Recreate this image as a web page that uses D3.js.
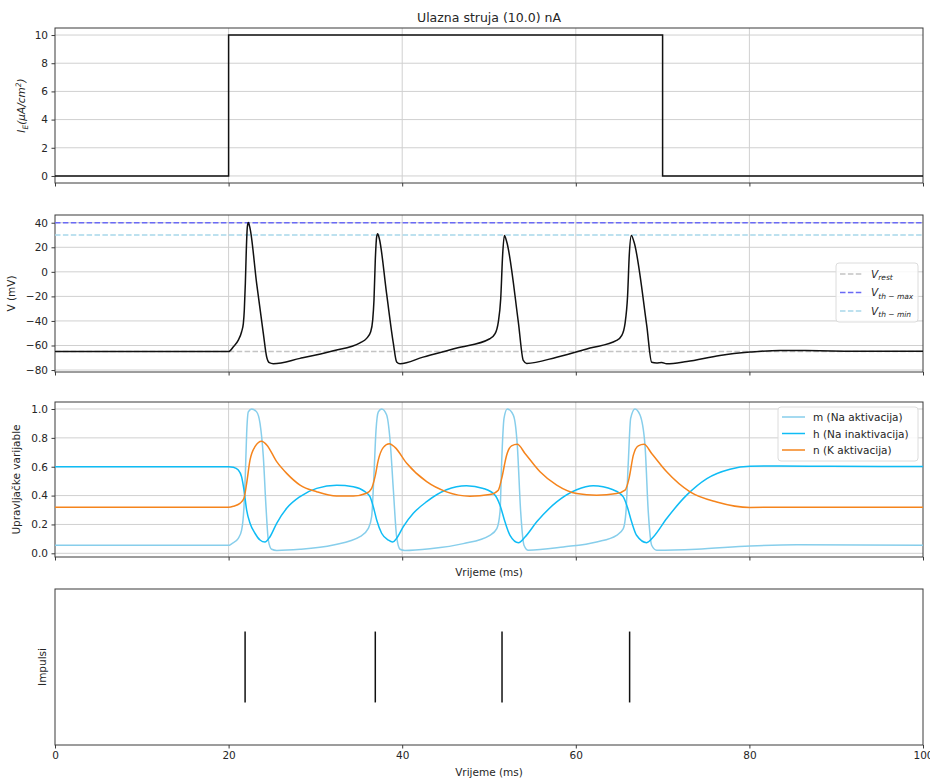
<!DOCTYPE html>
<html>
<head>
<meta charset="utf-8">
<script src="https://cdn.jsdelivr.net/npm/d3@7"></script>
<style>
  body { margin: 0; background: #fff; }
  svg text { font-family: "DejaVu Sans", sans-serif; fill: #262626; }
</style>
</head>
<body>
<svg id="chart" width="930" height="779"></svg>
<script>
// ---- data ----
var timeTicks = [0, 20, 40, 60, 80, 100];
var currentTicks = [0, 2, 4, 6, 8, 10];
var voltTicks = [-80, -60, -40, -20, 0, 20, 40];
var gateTicks = [0, 0.2, 0.4, 0.6, 0.8, 1.0];

var currentTrace = [[0, 0], [20, 0], [20, 10], [70, 10], [70, 0], [100, 0]];

var vRest = -65, vThMax = 40, vThMin = 30;

var vTrace = [
  [0, -65], [20, -65], [20.55, -61], [21.12, -55.6], [21.5, -48.8], [21.7, -42], [21.81, -31.1],
  [21.93, -9.4], [22.04, 17.7], [22.16, 36.7], [22.27, 40.1], [22.47, 35.4], [23.23, -9.4],
  [24.0, -50.2], [24.38, -69.2], [24.69, -74], [25.15, -74.8], [28.23, -70.5], [32.07, -64.3],
  [35.14, -57.8], [35.9, -54.2], [36.37, -48.8], [36.6, -39.3], [36.75, -23], [36.9, 9.6],
  [37.06, 28.6], [37.17, 31.0], [37.36, 27.2], [38.2, -17.6], [38.98, -58.3], [39.36, -73.4],
  [39.75, -74.9], [42.4, -69.5], [46.3, -62.1], [50.1, -54.5], [50.7, -50.4], [51.07, -40.9],
  [51.35, -21.8], [51.57, 13.6], [51.77, 29.6], [52.04, 24.5], [53.38, -40.9], [53.95, -72.2],
  [54.34, -74.6], [57.8, -69.5], [61.64, -62.1], [64.7, -55.9], [65.3, -51.8], [65.67, -42.2],
  [65.97, -19.1], [66.16, 13.6], [66.4, 29.6], [66.7, 24.5], [68.17, -43.6], [68.74, -73.6],
  [69.3, -74.2], [69.9, -73.8], [70.47, -74.9], [72.8, -73], [76.6, -68.1], [80.07, -65.4],
  [83.5, -64], [88.1, -64.3], [92.0, -64.6], [100, -64.6]
];

var mTrace = [
  [0, 0.055], [20, 0.055], [20.35, 0.066], [21.12, 0.104], [21.5, 0.16], [21.77, 0.32],
  [21.93, 0.55], [22.08, 0.83], [22.27, 0.98], [22.66, 1.0], [23.23, 0.98], [23.62, 0.9],
  [24.0, 0.67], [24.31, 0.32], [24.58, 0.09], [24.96, 0.028], [25.54, 0.02], [28.23, 0.028],
  [32.07, 0.058], [35.14, 0.115], [36.1, 0.173], [36.48, 0.254], [36.75, 0.55], [36.98, 0.85],
  [37.25, 0.98], [37.63, 1.0], [38.2, 0.96], [38.6, 0.785], [38.98, 0.44], [39.36, 0.115],
  [39.75, 0.028], [40.3, 0.02], [43.2, 0.032], [47.04, 0.067], [50.1, 0.125], [50.9, 0.171],
  [51.27, 0.287], [51.46, 0.634], [51.73, 0.935], [52.1, 1.0], [52.8, 0.958], [53.26, 0.75],
  [53.65, 0.287], [54.03, 0.056], [54.53, 0.021], [58.56, 0.044], [62.4, 0.079], [64.7, 0.125],
  [65.47, 0.171], [65.78, 0.287], [66.05, 0.634], [66.32, 0.935], [66.82, 1.0], [67.4, 0.958],
  [67.97, 0.75], [68.35, 0.287], [68.74, 0.056], [69.32, 0.021], [73.9, 0.028], [80.07, 0.051],
  [85.45, 0.06], [100, 0.056]
];

var hTrace = [
  [0, 0.6], [20, 0.6], [20.55, 0.596], [21.12, 0.577], [21.5, 0.53], [21.77, 0.44], [22.08, 0.3],
  [22.47, 0.208], [23.04, 0.139], [23.62, 0.092], [24.19, 0.078], [24.77, 0.115], [25.54, 0.208],
  [26.69, 0.312], [28.23, 0.393], [30.15, 0.45], [32.45, 0.471], [34.37, 0.462], [35.71, 0.427],
  [36.29, 0.393], [36.67, 0.323], [37.06, 0.231], [37.63, 0.139], [38.4, 0.092], [38.9, 0.078],
  [39.36, 0.104], [40.13, 0.185], [41.28, 0.277], [42.82, 0.358], [45.1, 0.44], [47.4, 0.468],
  [49.35, 0.449], [50.7, 0.403], [51.27, 0.333], [51.84, 0.218], [52.42, 0.125], [53.4, 0.074],
  [54.15, 0.113], [55.5, 0.218], [57.8, 0.356], [60.1, 0.44], [62.0, 0.468], [64.3, 0.44],
  [65.47, 0.391], [65.93, 0.322], [66.43, 0.218], [67.0, 0.125], [68.17, 0.074], [68.93, 0.113],
  [70.47, 0.241], [72.77, 0.403], [75.1, 0.518], [77.76, 0.583], [80.07, 0.603], [83.5, 0.605],
  [89.3, 0.603], [100, 0.601]
];

var nTrace = [
  [0, 0.32], [20, 0.32], [20.55, 0.326], [21.31, 0.346], [21.77, 0.381], [22.08, 0.485],
  [22.47, 0.647], [23.04, 0.739], [23.81, 0.776], [24.39, 0.751], [25.54, 0.635], [26.69, 0.554],
  [28.23, 0.473], [30.15, 0.427], [32.45, 0.397], [34.37, 0.397], [35.9, 0.416], [36.48, 0.45],
  [36.87, 0.531], [37.25, 0.647], [37.83, 0.734], [38.52, 0.76], [39.17, 0.734], [40.52, 0.624],
  [42.82, 0.496], [45.1, 0.426], [47.8, 0.396], [50.1, 0.407], [51.07, 0.4375], [51.46, 0.518],
  [52.03, 0.68], [52.6, 0.745], [53.26, 0.755], [54.15, 0.692], [55.88, 0.565], [57.8, 0.472],
  [60.1, 0.414], [62.4, 0.403], [64.7, 0.414], [65.67, 0.4375], [66.13, 0.518], [66.63, 0.68],
  [67.2, 0.745], [67.86, 0.755], [68.74, 0.692], [70.47, 0.565], [73.16, 0.426], [76.23, 0.356],
  [80.07, 0.318], [83.5, 0.319], [100, 0.32]
];

var spikeTimes = [21.9, 36.9, 51.5, 66.2];

// ---- layout ----
var svg = d3.select("#chart");
var left = 55, right = 923;
var x = d3.scaleLinear().domain([0, 100]).range([left, right]);

var panels = [
  { top: 28, bottom: 183, domain: [-0.5, 10.5], ticks: currentTicks },
  { top: 215, bottom: 372, domain: [-81.6, 46.3], ticks: voltTicks },
  { top: 402, bottom: 557, domain: [-0.0256, 1.0485], ticks: gateTicks },
  { top: 589, bottom: 745, domain: [-0.1, 2.1], ticks: [] }
];
panels.forEach(function(p) {
  p.y = d3.scaleLinear().domain(p.domain).range([p.bottom, p.top]);
});

var gridColor = "#d0d0d0";
var frameColor = "#3a3a3a";

function drawFrame(p, withGrid, withLabels) {
  var g = svg.append("g");
  if (withGrid) {
    g.selectAll(".vg").data(timeTicks.slice(1, -1)).enter().append("line")
      .attr("x1", function(d) { return x(d); }).attr("x2", function(d) { return x(d); })
      .attr("y1", p.top).attr("y2", p.bottom)
      .attr("stroke", gridColor).attr("stroke-width", 1);
    g.selectAll(".hg").data(p.ticks).enter().append("line")
      .attr("x1", left).attr("x2", right)
      .attr("y1", function(d) { return p.y(d); }).attr("y2", function(d) { return p.y(d); })
      .attr("stroke", gridColor).attr("stroke-width", 1);
  }
  var xAxis = d3.axisBottom(x).tickValues(timeTicks).tickSize(3.5).tickPadding(3.5)
    .tickFormat(withLabels ? d3.format("d") : "");
  var ax = g.append("g").attr("transform", "translate(0," + p.bottom + ")").call(xAxis);
  ax.select(".domain").remove();
  ax.selectAll("line").attr("stroke", frameColor);
  ax.selectAll("text").attr("font-size", 10.5).attr("fill", "#333")
    .attr("font-family", "DejaVu Sans");

  if (p.ticks.length) {
    var fmt = p === panels[2] ? d3.format(".1f") : function(d) { return d < 0 ? "\u2212" + (-d) : d; };
    var yAxis = d3.axisLeft(p.y).tickValues(p.ticks).tickSize(3.5).tickPadding(3.5).tickFormat(fmt);
    var ay = g.append("g").attr("transform", "translate(" + left + ",0)").call(yAxis);
    ay.select(".domain").remove();
    ay.selectAll("line").attr("stroke", frameColor);
    ay.selectAll("text").attr("font-size", 10.5).attr("fill", "#333")
      .attr("font-family", "DejaVu Sans");
  }
  g.append("rect").attr("x", left).attr("y", p.top)
    .attr("width", right - left).attr("height", p.bottom - p.top)
    .attr("fill", "none").attr("stroke", frameColor).attr("stroke-width", 1);
}

drawFrame(panels[0], true, false);
drawFrame(panels[1], true, false);
drawFrame(panels[2], true, false);
drawFrame(panels[3], false, true);

// ---- panel 1: input current ----
var p1 = panels[0];
svg.append("path").datum(currentTrace)
  .attr("d", d3.line().x(function(d) { return x(d[0]); }).y(function(d) { return p1.y(d[1]); }))
  .attr("fill", "none").attr("stroke", "#111").attr("stroke-width", 1.5);

svg.append("text").attr("x", (left + right) / 2).attr("y", 22)
  .attr("text-anchor", "middle").attr("font-size", 12.5).text("Ulazna struja (10.0) nA");

var yl1 = svg.append("text").attr("transform", "translate(25," + ((p1.top + p1.bottom) / 2) + ") rotate(-90)")
  .attr("text-anchor", "middle").attr("font-size", 10.5).attr("font-style", "italic");
yl1.append("tspan").text("I");
yl1.append("tspan").attr("font-size", 7.5).attr("dy", 2.5).text("E");
yl1.append("tspan").attr("dy", -2.5).text("(\u03bcA/cm");
yl1.append("tspan").attr("font-size", 7.5).attr("dy", -4).text("2");
yl1.append("tspan").attr("dy", 4).text(")");

// ---- panel 2: membrane voltage ----
var p2 = panels[1];
var refLines = [
  { v: vRest, color: "#c4c4c4" },
  { v: vThMax, color: "#6a6af5" },
  { v: vThMin, color: "#a8d8ea" }
];
svg.selectAll(".ref").data(refLines).enter().append("line")
  .attr("x1", left).attr("x2", right)
  .attr("y1", function(d) { return p2.y(d.v); }).attr("y2", function(d) { return p2.y(d.v); })
  .attr("stroke", function(d) { return d.color; }).attr("stroke-width", 1.5)
  .attr("stroke-dasharray", "5.5,2.4");

var curve = d3.line().curve(d3.curveMonotoneX).x(function(d) { return x(d[0]); });
svg.append("path").datum(vTrace)
  .attr("d", curve.y(function(d) { return p2.y(d[1]); }))
  .attr("fill", "none").attr("stroke", "#111").attr("stroke-width", 1.5);

svg.append("text").attr("transform", "translate(15," + ((p2.top + p2.bottom) / 2) + ") rotate(-90)")
  .attr("text-anchor", "middle").attr("font-size", 10.5).text("V (mV)");

var leg1 = svg.append("g");
leg1.append("rect").attr("x", 836).attr("y", 263).attr("width", 82).attr("height", 59)
  .attr("rx", 3).attr("fill", "#fff").attr("fill-opacity", 0.85).attr("stroke", "#dcdcdc");
var leg1Items = [
  { color: "#c4c4c4", sub: "rest" },
  { color: "#6a6af5", sub: "th \u2212 max" },
  { color: "#a8d8ea", sub: "th \u2212 min" }
];
leg1Items.forEach(function(d, i) {
  var yy = 274 + i * 18.5;
  leg1.append("line").attr("x1", 840).attr("x2", 862).attr("y1", yy).attr("y2", yy)
    .attr("stroke", d.color).attr("stroke-width", 1.5).attr("stroke-dasharray", "5.5,2.4");
  var t = leg1.append("text").attr("x", 871).attr("y", yy + 3.5)
    .attr("font-size", 10.5).attr("font-style", "italic");
  t.append("tspan").text("V");
  t.append("tspan").attr("font-size", 7.5).attr("dy", 2.5).text(d.sub);
});

// ---- panel 3: gating variables ----
var p3 = panels[2];
var gates = [
  { data: mTrace, color: "#87ceeb", label: "m (Na aktivacija)" },
  { data: hTrace, color: "#0fbcf5", label: "h (Na inaktivacija)" },
  { data: nTrace, color: "#f5841c", label: "n (K aktivacija)" }
];
gates.forEach(function(gt) {
  svg.append("path").datum(gt.data)
    .attr("d", curve.y(function(d) { return p3.y(d[1]); }))
    .attr("fill", "none").attr("stroke", gt.color).attr("stroke-width", 1.5);
});

svg.append("text").attr("transform", "translate(20," + ((p3.top + p3.bottom) / 2) + ") rotate(-90)")
  .attr("text-anchor", "middle").attr("font-size", 10.5).text("Upravlja\u010dke varijable");
svg.append("text").attr("x", (left + right) / 2).attr("y", 576)
  .attr("text-anchor", "middle").attr("font-size", 10.5).text("Vrijeme (ms)");

var leg2 = svg.append("g");
leg2.append("rect").attr("x", 778).attr("y", 407).attr("width", 140).attr("height", 54)
  .attr("rx", 3).attr("fill", "#fff").attr("fill-opacity", 0.85).attr("stroke", "#dcdcdc");
gates.forEach(function(gt, i) {
  var yy = 417 + i * 16.5;
  leg2.append("line").attr("x1", 782).attr("x2", 805).attr("y1", yy).attr("y2", yy)
    .attr("stroke", gt.color).attr("stroke-width", 1.5);
  leg2.append("text").attr("x", 813).attr("y", yy + 4).attr("font-size", 10.5).text(gt.label);
});

// ---- panel 4: spikes ----
var p4 = panels[3];
svg.selectAll(".spike").data(spikeTimes).enter().append("line")
  .attr("x1", function(d) { return x(d); }).attr("x2", function(d) { return x(d); })
  .attr("y1", p4.y(0.5)).attr("y2", p4.y(1.5))
  .attr("stroke", "#111").attr("stroke-width", 1.5);

svg.append("text").attr("transform", "translate(46," + ((p4.top + p4.bottom) / 2) + ") rotate(-90)")
  .attr("text-anchor", "middle").attr("font-size", 10.5).text("Impulsi");
svg.append("text").attr("x", (left + right) / 2).attr("y", 776)
  .attr("text-anchor", "middle").attr("font-size", 10.5).text("Vrijeme (ms)");
</script>
</body>
</html>
